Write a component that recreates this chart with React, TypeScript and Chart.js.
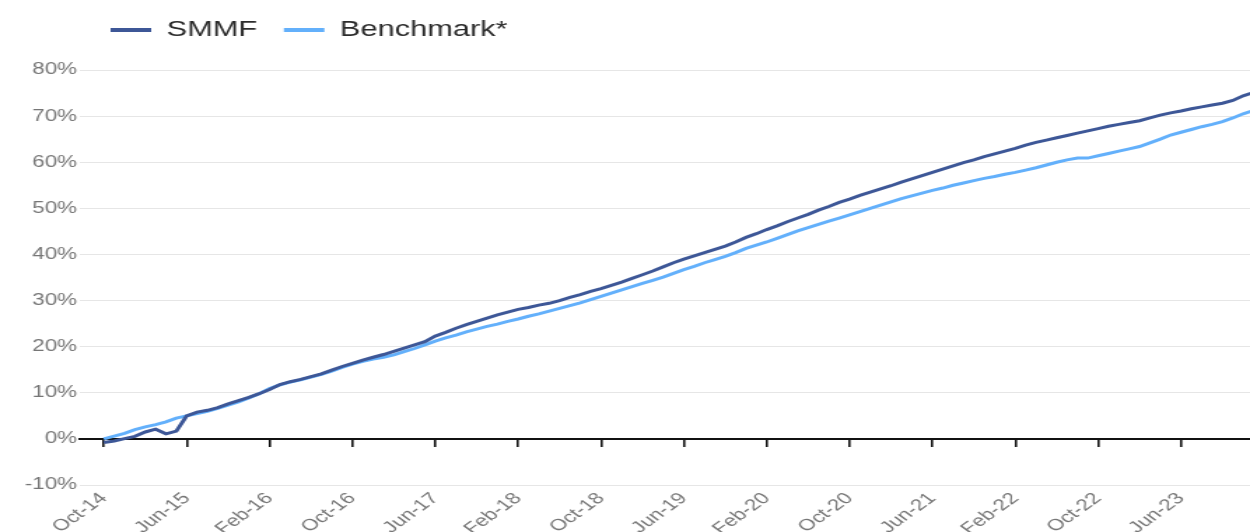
import React, { useEffect, useRef } from 'react';
import { Chart, registerables } from 'chart.js';

Chart.register(...registerables);

// month index counted from Oct-14
const months: number[] = Array.from({ length: 112 }, (_, i) => i);

const tickMonths = [0, 8, 16, 24, 32, 40, 48, 56, 64, 72, 80, 88, 96, 104];
const tickLabels = [
  'Oct-14', 'Jun-15', 'Feb-16', 'Oct-16', 'Jun-17', 'Feb-18', 'Oct-18',
  'Jun-19', 'Feb-20', 'Oct-20', 'Jun-21', 'Feb-22', 'Oct-22', 'Jun-23',
];

const smmf = [
  -0.8, -0.45, 0.05, 0.55, 1.5, 2.1, 1.1, 1.7, 5.0, 5.8,
  6.2, 6.8, 7.6, 8.3, 9.0, 9.8, 10.7, 11.8, 12.4, 12.9,
  13.5, 14.1, 14.9, 15.7, 16.4, 17.1, 17.7, 18.3, 19.0, 19.7,
  20.4, 21.1, 22.3, 23.1, 24.0, 24.8, 25.5, 26.2, 26.9, 27.5,
  28.1, 28.5, 29.0, 29.4, 30.0, 30.7, 31.3, 32.0, 32.6, 33.3,
  34.0, 34.8, 35.6, 36.4, 37.3, 38.2, 39.0, 39.7, 40.4, 41.1,
  41.8, 42.7, 43.7, 44.5, 45.4, 46.2, 47.1, 47.9, 48.7, 49.6,
  50.4, 51.3, 52.0, 52.8, 53.5, 54.2, 54.9, 55.7, 56.4, 57.1,
  57.8, 58.5, 59.2, 59.9, 60.5, 61.2, 61.8, 62.4, 63.0, 63.7,
  64.3, 64.8, 65.3, 65.8, 66.3, 66.8, 67.3, 67.8, 68.2, 68.6,
  69.0, 69.6, 70.2, 70.7, 71.1, 71.6, 72.0, 72.4, 72.8, 73.4,
  74.4, 75.1,
];

const benchmark = [
  0.0, 0.6, 1.2, 2.0, 2.6, 3.1, 3.7, 4.5, 5.0, 5.5,
  6.0, 6.6, 7.3, 8.0, 8.9, 9.8, 10.9, 11.7, 12.3, 12.8,
  13.4, 14.0, 14.7, 15.5, 16.2, 16.8, 17.3, 17.7, 18.2, 18.9,
  19.6, 20.4, 21.2, 21.9, 22.5, 23.2, 23.8, 24.4, 24.9, 25.5,
  26.0, 26.6, 27.1, 27.7, 28.3, 28.9, 29.5, 30.2, 30.9, 31.6,
  32.3, 33.0, 33.7, 34.4, 35.1, 35.9, 36.7, 37.4, 38.2, 38.9,
  39.6, 40.4, 41.3, 42.0, 42.7, 43.5, 44.3, 45.1, 45.8, 46.5,
  47.2, 47.9, 48.6, 49.3, 50.0, 50.7, 51.4, 52.1, 52.7, 53.3,
  53.9, 54.4, 55.0, 55.5, 56.0, 56.5, 56.9, 57.4, 57.8, 58.3,
  58.8, 59.4, 60.0, 60.5, 60.9, 60.9, 61.4, 61.9, 62.4, 62.9,
  63.4, 64.2, 65.0, 65.9, 66.5, 67.1, 67.7, 68.2, 68.8, 69.6,
  70.5, 71.2,
];

const TICK_FONT = { family: "'Liberation Sans', Arial, sans-serif", size: 16 };
const LEGEND_FONT = { family: "'Liberation Sans', Arial, sans-serif", size: 22 };
const X_MIN = -2.32;
const X_MAX = 110.66;

const setTicks = (axis: any) => {
  axis.ticks = tickMonths.map((v) => ({ value: v }));
};
const tickLabel = (value: any) => {
  const i = tickMonths.indexOf(Number(value));
  return i >= 0 ? tickLabels[i] : '';
};

const legendShift = {
  id: 'legendShift',
  afterLayout(chart: any) {
    const l = chart.legend;
    if (l) {
      l.left += 60;
      l.right += 60;
    }
  },
};

export default function App() {
  const ref = useRef<HTMLCanvasElement | null>(null);

  useEffect(() => {
    document.body.style.margin = '0';
    if (!ref.current) return;
    const chart = new Chart(ref.current, {
      type: 'line',
      data: {
        labels: months,
        datasets: [
          {
            label: 'SMMF',
            data: smmf,
            borderColor: '#3d5797',
            backgroundColor: '#3d5797',
            borderWidth: 3,
            pointRadius: 0,
            tension: 0,
            xAxisID: 'x',
            yAxisID: 'y',
          },
          {
            label: 'Benchmark*',
            data: benchmark,
            borderColor: '#63b0fb',
            backgroundColor: '#63b0fb',
            borderWidth: 3,
            pointRadius: 0,
            tension: 0,
            xAxisID: 'x',
            yAxisID: 'y',
          },
        ],
      },
      options: {
        responsive: false,
        maintainAspectRatio: false,
        devicePixelRatio: 1,
        animation: false,
        layout: { padding: 0 },
        plugins: {
          tooltip: { enabled: false },
          legend: {
            display: true,
            position: 'top',
            align: 'start',
            labels: {
              boxWidth: 29,
              boxHeight: 4,
              padding: 19,
              color: '#2b2b2b',
              font: LEGEND_FONT,
              generateLabels: (c: any) =>
                (Chart.defaults.plugins.legend.labels.generateLabels as any)(c).map((it: any) => ({
                  ...it,
                  lineWidth: 0,
                  fillStyle: it.strokeStyle,
                })),
            },
          },
        },
        scales: {
          y: {
            type: 'linear',
            position: 'left',
            min: -10,
            max: 80,
            ticks: {
              stepSize: 10,
              color: '#767676',
              font: TICK_FONT,
              padding: 2,
              callback: (v: any) => `${v}%`,
            },
            grid: {
              color: (ctx: any) => (ctx.tick && ctx.tick.value === 0 ? 'rgba(0,0,0,0)' : '#e6e6e6'),
              lineWidth: 1,
              drawTicks: false,
            },
            border: { display: false },
            afterFit: (s: any) => {
              s.width = 57;
            },
          },
          x: {
            type: 'linear',
            position: 'bottom',
            min: X_MIN,
            max: X_MAX,
            afterBuildTicks: setTicks,
            ticks: {
              autoSkip: false,
              minRotation: 45,
              maxRotation: 45,
              color: '#767676',
              font: TICK_FONT,
              padding: 4,
              callback: tickLabel,
            },
            grid: { display: false, drawTicks: false },
            border: { display: false },
            afterFit: (s: any) => {
              s.height = 47;
            },
          },
          x2: {
            type: 'linear',
            position: { y: 0 },
            min: X_MIN,
            max: X_MAX,
            afterBuildTicks: setTicks,
            ticks: { display: false },
            grid: {
              drawOnChartArea: false,
              drawTicks: true,
              tickLength: 7,
              color: '#111111',
              lineWidth: 1.6,
            },
            border: { display: true, color: '#111111', width: 2 },
          },
          xTop: {
            type: 'linear',
            position: 'top',
            display: true,
            ticks: { display: false },
            grid: { display: false, drawTicks: false },
            border: { display: false },
            afterFit: (s: any) => {
              s.height = 19;
            },
          },
        },
      },
      plugins: [legendShift],
    } as any);
    return () => chart.destroy();
  }, []);

  return (
    <div style={{ width: 1250, height: 532, position: 'relative' }}>
      <canvas
        ref={ref}
        width={893}
        height={532}
        style={{ display: 'block', width: '1250px', height: '532px' }}
      />
    </div>
  );
}
